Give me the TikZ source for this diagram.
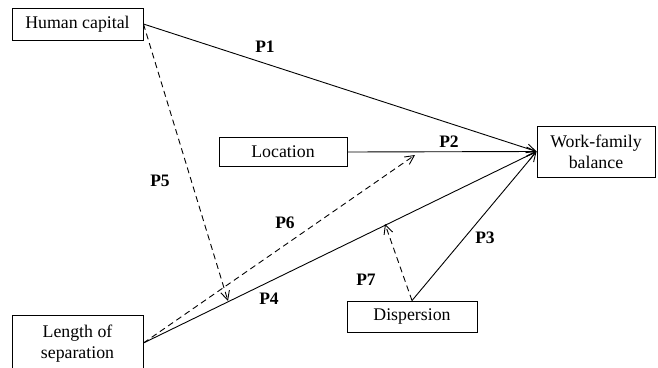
\documentclass[tikz,border=0pt]{standalone}
\usepackage{fontspec}
\setmainfont{Liberation Serif}
\usetikzlibrary{arrows.meta}
\begin{document}
\begin{tikzpicture}[x=1pt,y=-1pt,
  box/.style={draw,line width=0.9pt,inner sep=0pt,font=\fontsize{17.8}{21}\selectfont,align=center},
  lab/.style={font=\fontsize{17.5}{20}\selectfont\bfseries},
  arr/.style={line width=0.9pt,-{Straight Barb[length=9pt,width=9pt]}},
  darr/.style={arr,dash pattern=on 6pt off 4pt}]
\useasboundingbox (0,0) rectangle (658,367);
\node[box,minimum width=131pt,minimum height=32pt] (hc) at (77.5,24) {Human capital};
\node[box,minimum width=118pt,minimum height=51pt] (wfb) at (596,151.5) {Work-family\\balance};
\node[box,minimum width=128pt,minimum height=29pt] (loc) at (283,152) {Location};
\node[box,minimum width=130pt,minimum height=31pt] (disp) at (412,316.5) {Dispersion};
\node[draw,line width=0.9pt,minimum width=131pt,minimum height=56pt] (len) at (77.5,343) {};
\node[font=\fontsize{17.8}{21}\selectfont,align=center] (lentxt) at (77.5,344) {Length of\\separation};
\coordinate (p5e) at (228,301);
\coordinate (p6e) at (415,155);
\coordinate (p7e) at (385,224);
\draw[arr] (hc.east) -- (wfb.west);
\draw[arr] (loc.east) -- (wfb.west);
\draw[arr] (len.east) -- (wfb.west);
\draw[arr] (disp.north) -- (wfb.west);
\draw[darr] (hc.east) -- (p5e);
\draw[darr] (len.east) -- (p6e);
\draw[darr] (disp.north) -- (p7e);
\node[lab] (l1) at (265,47) {P1};
\node[lab] (l2) at (449,142) {P2};
\node[lab] (l3) at (485,238) {P3};
\node[lab] (l4) at (269,299) {P4};
\node[lab] (l5) at (160,181) {P5};
\node[lab] (l6) at (285,223) {P6};
\node[lab] (l7) at (366,280) {P7};
\end{tikzpicture}
\end{document}
